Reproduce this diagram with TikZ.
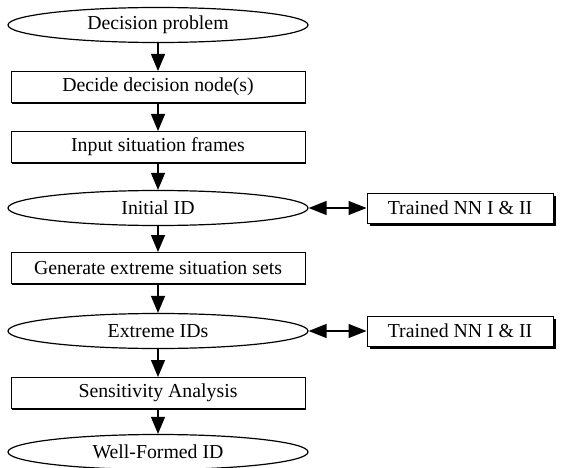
\documentclass[tikz,border=0pt]{standalone}
\usepackage{fontspec}
\setmainfont{Liberation Serif}
\usetikzlibrary{shapes.geometric,arrows.meta,shadows}

\begin{document}
\begin{tikzpicture}[x=1pt,y=-1pt,
    font=\fontsize{19.8}{22}\selectfont,
    oval/.style={ellipse,draw,line width=1.2pt,fill=white,minimum width=300pt,minimum height=35pt,inner sep=0pt},
    stepbox/.style={rectangle,draw,line width=1pt,fill=white,minimum width=294pt,minimum height=31pt,inner sep=0pt,
        drop shadow={shadow xshift=1.2pt,shadow yshift=-1.2pt,fill=black,opacity=1}},
    nnbox/.style={rectangle,draw,line width=1pt,fill=white,minimum width=186pt,minimum height=30pt,inner sep=0pt,
        drop shadow={shadow xshift=3pt,shadow yshift=-3pt,fill=black,opacity=1}},
    flow/.style={-{Triangle[length=17pt,width=14pt]},line width=1.3pt},
    link/.style={{Triangle[length=18pt,width=14pt]}-{Triangle[length=18pt,width=14pt]},line width=1.3pt}]

    \useasboundingbox (0,0) rectangle (562,468);

    % main column
    \node[oval]    (prob)  at (158,25)  {Decision problem};
    \node[stepbox] (dnode) at (158,87)  {Decide decision node(s)};
    \node[stepbox] (frame) at (158,147) {Input situation frames};
    \node[oval]    (init)  at (158,208) {Initial ID};
    \node[stepbox] (gen)   at (158,268) {Generate extreme situation sets};
    \node[oval]    (ext)   at (158,331) {Extreme IDs};
    \node[stepbox] (sens)  at (158,393) {Sensitivity Analysis};
    \node[oval]    (well)  at (158,452) {Well-Formed ID};

    % trained networks
    \node[nnbox] (nnA) at (460,208) {Trained NN I \& II};
    \node[nnbox] (nnB) at (460,331) {Trained NN I \& II};

    \draw[flow] (prob) -- (dnode);
    \draw[flow] (dnode) -- (frame);
    \draw[flow] (frame) -- (init);
    \draw[flow] (init) -- (gen);
    \draw[flow] (gen) -- (ext);
    \draw[flow] (ext) -- (sens);
    \draw[flow] (sens) -- (well);

    \draw[link] (init.east) -- (nnA.west);
    \draw[link] (ext.east) -- (nnB.west);

\end{tikzpicture}
\end{document}
